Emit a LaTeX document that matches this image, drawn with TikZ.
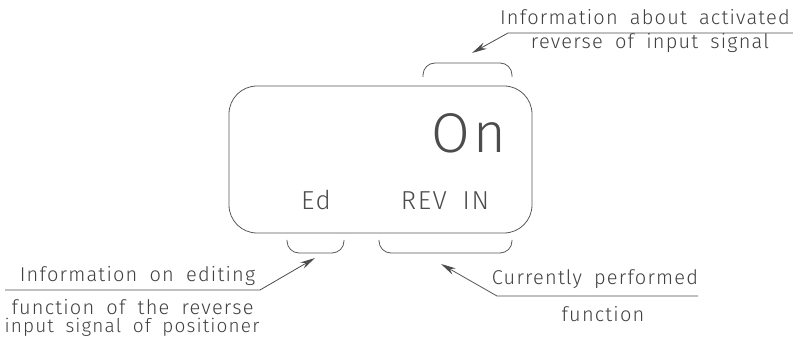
\documentclass[tikz,border=0pt]{standalone}
\usepackage{fontspec}
\setmainfont{Fira Sans Light}[LetterSpace=6, WordSpace=1.8]
\usetikzlibrary{arrows.meta}

\begin{document}
\begin{tikzpicture}[x=1pt, y=-1pt]
\tikzset{
  outline/.style={draw=black!65, line width=0.8pt},
  leader/.style={draw=black!70, line width=0.8pt, -{Stealth[length=15pt, width=7pt]}},
  note/.style={text=black!75, inner sep=0pt, anchor=base, font=\fontsize{20}{22}\selectfont},
  lcd/.style={text=black!70, inner sep=0pt, anchor=base, font=\fontsize{26}{28}\selectfont}
}
\useasboundingbox (0,0) rectangle (793,339);
% display
\draw[outline, rounded corners=28pt] (229,86) rectangle (532,233);
\node[lcd, font=\fontsize{56}{60}\selectfont, anchor=base] (val) at (469,153) {On};
\node[lcd] (ed) at (316,210) {Ed};
\node[lcd] (fn) at (445,210) {REV IN};
% brackets
\draw[outline, rounded corners=12pt] (423,77) -- (423,63) -- (512,63) -- (512,77);
\draw[outline, rounded corners=12pt] (287,240) -- (287,253) -- (344,253) -- (344,240);
\draw[outline, rounded corners=12pt] (379,240) -- (379,253) -- (512,253) -- (512,240);
% top right note
\node[note] (act1) at (645,25) {Information about activated};
\node[note] (act2) at (650,49) {reverse of input signal};
\coordinate (actend) at (793,33);
\coordinate (actknee) at (508,33);
\coordinate (acttip) at (472,53);
\draw[leader] (actend) -- (actknee) -- (acttip);
% bottom left note
\node[note] (edit1) at (137.5,282) {Information on editing};
\node[note] (edit2) at (132.5,315) {function of the reverse};
\node[note, font=\fontsize{19}{21}\selectfont] (edit3) at (132,333) {input signal of positioner};
\coordinate (editend) at (5,290);
\coordinate (editknee) at (260,290);
\coordinate (edittip) at (315,258);
\draw[leader] (editend) -- (editknee) -- (edittip);
% bottom right note
\node[note] (cur1) at (595,285) {Currently performed};
\node[note] (cur2) at (603,322) {function};
\coordinate (curend) at (698,296);
\coordinate (curknee) at (497,296);
\coordinate (curtip) at (441,264);
\draw[leader] (curend) -- (curknee) -- (curtip);
\end{tikzpicture}
\end{document}
